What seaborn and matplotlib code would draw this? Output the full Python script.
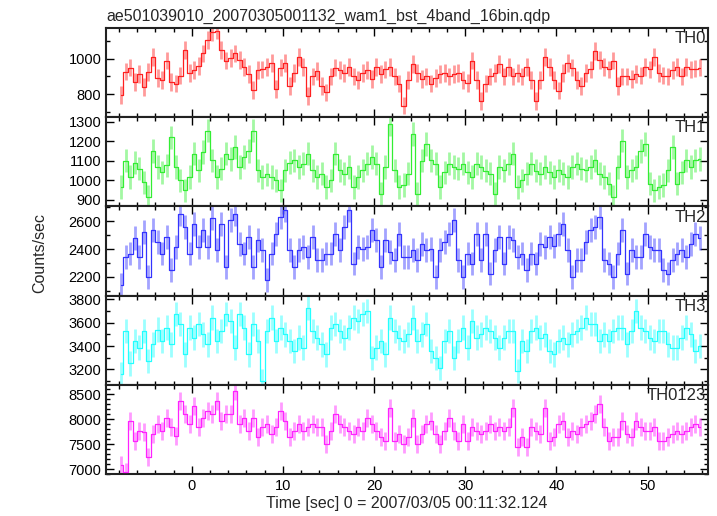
import numpy as np
import pandas as pd
import matplotlib
matplotlib.use("Agg")
import matplotlib.pyplot as plt
import seaborn as sns
from matplotlib.ticker import MultipleLocator

# time grid of the light curve
t_start = -8.0
bin_width = 0.5

# count rates per band (counts/sec)
th0 = [796, 928, 950, 870, 915, 840, 925, 1010, 890, 880, 990, 870, 860, 905, 1050, 920,
       935, 960, 1030, 1105, 1150, 1160, 1050, 990, 1005, 1030, 995, 955, 915, 825, 935, 940,
       955, 975, 830, 950, 975, 845, 920, 1010, 955, 790, 900, 930, 845, 810, 900, 950,
       935, 920, 955, 900, 880, 920, 935, 885, 955, 915, 940, 955, 900, 860, 735, 880,
       970, 920, 885, 900, 860, 890, 915, 920, 900, 915, 920, 880, 865, 990, 880, 760,
       860, 900, 920, 970, 900, 955, 900, 920, 900, 955, 880, 760, 880, 1010, 955, 880,
       820, 920, 975, 950, 880, 845, 920, 940, 1045, 995, 955, 940, 990, 845, 900, 900,
       885, 915, 905, 955, 940, 1010, 920, 905, 900, 935, 955, 900, 955, 940, 945, 950]
th1 = [966, 1100, 1017, 1090, 1060, 990, 915, 1150, 1068, 1040, 1076, 1221, 1068, 1000, 949, 1017,
       1136, 1051, 1145, 1255, 1102, 1017, 1060, 1136, 1110, 1170, 1068, 1119, 1150, 1255, 1051, 1017,
       1030, 1017, 1000, 949, 1051, 1090, 1102, 1068, 1085, 1136, 1051, 1017, 1034, 966, 1000, 1136,
       1051, 1034, 1068, 966, 1017, 1051, 1085, 1119, 1085, 932, 1068, 1289, 1051, 966, 975, 1034,
       1238, 932, 1100, 1187, 1102, 1085, 966, 1040, 1085, 1068, 1060, 1085, 1040, 1017, 1085, 1068,
       1050, 1034, 932, 1068, 1051, 1085, 1136, 966, 1000, 1034, 1085, 1050, 1034, 1068, 1040, 1017,
       1051, 1034, 1017, 1068, 1085, 1060, 1051, 1068, 1102, 1034, 1017, 983, 915, 1068, 1204, 1017,
       1051, 1068, 1150, 1187, 983, 949, 966, 975, 1051, 1170, 983, 1040, 1102, 1068, 1102, 1110]
th2 = [2141, 2343, 2367, 2480, 2343, 2520, 2200, 2534, 2450, 2367, 2486, 2248, 2415, 2652, 2557, 2367,
       2581, 2415, 2534, 2415, 2620, 2391, 2581, 2272, 2605, 2652, 2438, 2367, 2486, 2272, 2462, 2391,
       2177, 2367, 2510, 2629, 2676, 2391, 2272, 2391, 2415, 2343, 2486, 2319, 2319, 2367, 2367, 2510,
       2391, 2557, 2676, 2296, 2415, 2400, 2415, 2534, 2462, 2272, 2462, 2380, 2319, 2510, 2343, 2343,
       2391, 2319, 2438, 2391, 2400, 2200, 2391, 2450, 2510, 2605, 2319, 2200, 2367, 2296, 2510, 2319,
       2510, 2224, 2391, 2486, 2296, 2486, 2462, 2343, 2367, 2248, 2367, 2296, 2438, 2415, 2486, 2420,
       2510, 2581, 2391, 2200, 2319, 2319, 2450, 2534, 2560, 2629, 2319, 2296, 2200, 2367, 2534, 2224,
       2391, 2343, 2343, 2510, 2415, 2391, 2391, 2248, 2224, 2319, 2367, 2391, 2343, 2438, 2510, 2480]
th3 = [3156, 3529, 3250, 3443, 3386, 3529, 3271, 3414, 3540, 3443, 3558, 3414, 3673, 3587, 3328, 3558,
       3472, 3587, 3500, 3414, 3644, 3443, 3529, 3673, 3615, 3386, 3673, 3558, 3328, 3587, 3443, 3098,
       3529, 3644, 3443, 3558, 3500, 3443, 3357, 3472, 3386, 3730, 3529, 3472, 3414, 3328, 3558, 3587,
       3529, 3472, 3558, 3644, 3615, 3673, 3702, 3299, 3386, 3443, 3328, 3644, 3529, 3472, 3443, 3500,
       3644, 3443, 3500, 3587, 3357, 3299, 3213, 3443, 3529, 3299, 3443, 3558, 3386, 3615, 3472, 3500,
       3558, 3529, 3472, 3386, 3472, 3529, 3529, 3184, 3443, 3357, 3529, 3558, 3472, 3500, 3357, 3328,
       3443, 3472, 3414, 3500, 3529, 3558, 3644, 3587, 3587, 3443, 3500, 3443, 3529, 3558, 3558, 3414,
       3529, 3702, 3558, 3529, 3472, 3443, 3529, 3529, 3414, 3386, 3386, 3472, 3558, 3500, 3357, 3400]
th0123 = [7075, 6943, 7966, 7570, 7768, 7750, 7240, 7702, 7900, 7768, 8032, 7834, 7670, 8362, 8098, 7900,
          8263, 7834, 8032, 8164, 8098, 8362, 7966, 8098, 8098, 8560, 7900, 8032, 7768, 8032, 7636, 7834,
          7900, 7702, 7834, 8164, 7966, 7636, 7768, 7900, 7768, 7834, 7900, 7834, 7834, 7504, 7768, 8098,
          7900, 7834, 7768, 7702, 7834, 7768, 8032, 7900, 7768, 7636, 7570, 8230, 7570, 7702, 7504, 7636,
          8032, 7504, 7702, 7900, 7966, 7702, 7504, 7768, 8032, 7768, 7570, 7900, 7570, 7834, 7768, 7702,
          7768, 7900, 7768, 7834, 7768, 7834, 8230, 7438, 7636, 7438, 7834, 7768, 7702, 8230, 7570, 7636,
          7900, 7966, 7636, 7768, 7702, 7834, 7900, 7966, 8098, 8296, 7834, 7570, 7636, 7636, 7966, 7702,
          7636, 7966, 7834, 7768, 7768, 7834, 7570, 7570, 7636, 7702, 7768, 7702, 7768, 7834, 7900, 7850]

bands = ["TH0", "TH1", "TH2", "TH3", "TH0123"]
rates = [th0, th1, th2, th3, th0123]
errors = [50, 60, 85, 105, 180]
colors = ["#ff2020", "#33ee33", "#3333ff", "#22ffff", "#ff22ff"]
ylims = [(670, 1175), (866, 1324), (2066, 2705), (3066, 3832), (6900, 8684)]
major_steps = [200, 100, 200, 200, 500]
minor_steps = [100, 100, 100, 100, 100]

sns.set_theme(style="ticks")
plt.rcParams['font.family'] = ['Liberation Sans', 'DejaVu Sans']

fig, axes = plt.subplots(5, 1, figsize=(7.17, 5.16), dpi=100, sharex=True)
fig.subplots_adjust(left=0.148, right=0.987, top=0.946, bottom=0.081, hspace=0)

for ax, band, vals, err, col, yl, mj, mn in zip(axes, bands, rates, errors, colors,
                                                 ylims, major_steps, minor_steps):
    df = pd.DataFrame({"time": t_start + bin_width * (np.arange(len(vals)) + 0.5),
                       "rate": vals})
    # error bars drawn lighter, step curve on top
    ax.errorbar(df["time"], df["rate"], yerr=err, fmt="none", ecolor=col,
                elinewidth=2.0, alpha=0.45, zorder=2)
    sns.lineplot(data=df, x="time", y="rate", ax=ax, color=col, lw=0.9,
                 drawstyle="steps-mid", zorder=3)
    ax.set_ylim(*yl)
    ax.set_xlim(-9.4, 56.6)
    ax.yaxis.set_major_locator(MultipleLocator(mj))
    ax.yaxis.set_minor_locator(MultipleLocator(mn))
    ax.xaxis.set_major_locator(MultipleLocator(10))
    ax.xaxis.set_minor_locator(MultipleLocator(2))
    ax.tick_params(which="both", direction="in", top=True, right=True,
                   colors="black", labelsize=10.5, width=1.0)
    ax.tick_params(which="major", length=6)
    ax.tick_params(which="minor", length=3)
    ax.set_xlabel("")
    ax.set_ylabel("")
    for s in ax.spines.values():
        s.set_linewidth(1.5)
        s.set_color("#222222")
    ax.text(0.997, 0.965, band, transform=ax.transAxes, ha="right", va="top", fontsize=12)

axes[-1].set_xlabel("Time [sec] 0 = 2007/03/05 00:11:32.124", fontsize=11.5, labelpad=2)
fig.text(0.055, 0.51, "Counts/sec", rotation=90, ha="center", va="center", fontsize=11.5)
fig.text(0.148, 0.968, "ae501039010_20070305001132_wam1_bst_4band_16bin.qdp",
         ha="left", va="center", fontsize=11.5)

plt.savefig("out.png", dpi=100)
